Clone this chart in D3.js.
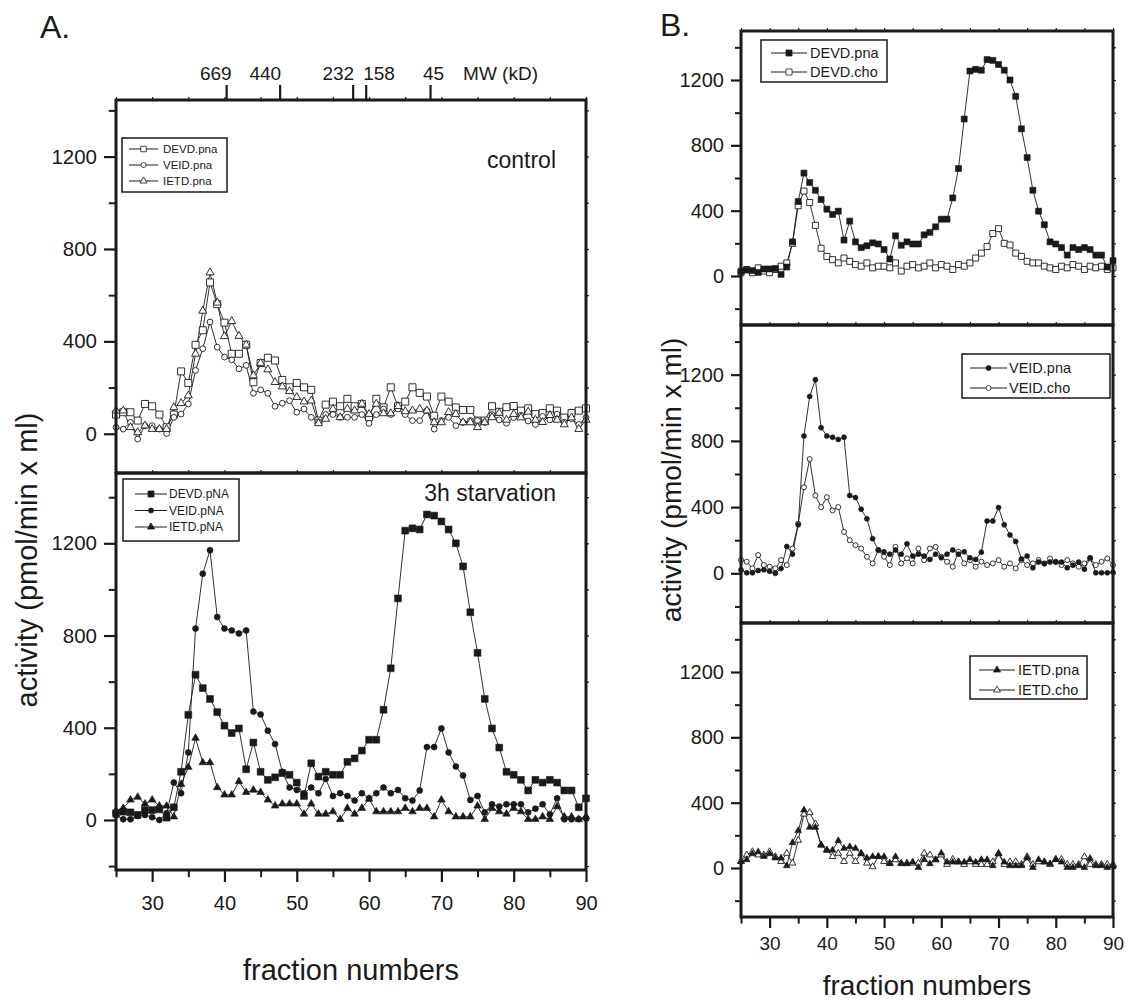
<!DOCTYPE html>
<html>
<head>
<meta charset="utf-8">
<script src="https://cdn.jsdelivr.net/npm/d3@7"></script>
<style>
  body { margin: 0; background: #fff; }
  svg text { font-family: "Liberation Sans", Arial, Helvetica, sans-serif; fill: #1a1a1a; }
</style>
</head>
<body>
<div id="chart"></div>
<script>
// fraction numbers 25..90
var fractions = [25,26,27,28,29,30,31,32,33,34,35,36,37,38,39,40,41,42,43,44,45,46,47,48,49,50,
  51,52,53,54,55,56,57,58,59,60,61,62,63,64,65,66,67,68,69,70,71,72,73,74,75,76,77,78,79,80,
  81,82,83,84,85,86,87,88,89,90];

// A. control (open symbols)
var controlDEVD = [83,93,93,57,129,119,83,28,83,270, 220,385,448,655,561,481,346,346,385,223,
  306,329,317,233,201,220,201,190,57,126, 139,119,151,119,129,71,151,114,201,119,
  139,201,177,161,78,161,139,114,103,103, 57,57,119,95,115,120,100,110,85,90, 110,100,70,90,100,110];
var controlVEID = [28,20,49,-23,35,35,20,1,71,85, 129,274,368,484,375,332,320,281,296,175,
  190,175,119,132,143,93,107,71,52,83, 83,71,71,71,83,45,83,107,83,107,
  83,57,57,100,20,57,71,35,49,57, 57,49,83,60,45,70,80,55,40,75, 60,85,50,65,40,70];
var controlIETD = [100,100,28,6,35,20,20,20,114,132, 165,346,532,698,567,422,487,423,385,252,
  306,278,223,204,184,158,139,143,45,64, 107,71,107,100,129,85,129,88,88,119,
  97,100,107,100,49,49,93,85,49,49, 28,49,71,90,60,85,70,95,60,50, 80,60,40,70,20,60];

// A. 3h starvation = B. pna series (filled symbols)
var starvDEVD = [29,36,33,22,43,43,46,10,55,209, 456,630,572,525,468,409,377,397,220,336,
  209,174,185,203,196,162,104,246,188,209, 196,196,252,267,301,348,348,478,658,961,
  1255,1265,1260,1325,1320,1295,1260,1200,1100,901, 725,525,397,314,209,196,174,128,174,162,
  174,162,128,128,55,94];
var starvVEID = [20,3,3,17,22,12,0,29,162,116, 293,830,1068,1170,880,830,822,809,822,470,
  458,387,329,209,141,130,116,141,116,178, 104,116,104,84,116,94,116,141,116,130,
  94,84,128,316,316,397,293,232,193,87, 104,33,68,58,68,68,68,33,49,68, 25,94,3,3,3,7];
var starvIETD = [40,51,87,99,70,87,61,61,14,155, 229,355,249,249,141,109,109,167,120,130,
  120,87,61,70,70,70,26,70,26,26, 36,3,51,26,51,91,36,36,36,36,
  51,36,51,51,14,87,36,14,14,14, 61,3,51,36,26,51,36,3,3,14, 3,58,14,14,3,14];

// B. cho series (open symbols)
var choDEVD = [20,40,20,50,30,20,40,60,80,200, 430,520,450,310,170,120,100,80,110,90,
  70,60,80,50,60,60,50,80,30,60, 70,50,60,80,50,70,60,40,70,60,
  80,110,140,180,260,290,200,190,140,120, 90,80,80,60,50,40,60,50,70,60, 40,60,50,60,40,50];
var choVEID = [80,70,30,110,50,40,30,80,50,150, 300,520,690,470,400,460,380,400,250,200,
  170,150,100,60,140,100,50,160,60,90, 60,150,80,150,160,100,70,40,130,60,
  80,40,70,50,60,80,40,60,30,80, 50,60,80,60,90,70,50,80,60,40, 60,90,50,70,90,50];
var choIETD = [40,80,100,80,80,100,70,40,90,30, 170,330,340,270,140,110,70,90,40,90,
  40,90,30,8,70,40,30,50,30,30, 30,30,90,80,50,80,22,53,38,22,
  38,22,22,22,38,89,22,38,38,22, 69,22,38,38,22,53,53,22,22,22, 69,22,22,22,22,22];

// axis ticks
var xMajor = [30,40,50,60,70,80,90];
var xMinor = [25,35,45,55,65,75,85];
var yMajor = [0,400,800,1200];
var yMinor = [-200,200,600,1000,1400];

// molecular weight markers on top axis
var mwLabels = ["669","440","232","158","45"];
var mwFractions = [40.3,47.7,57.8,59.6,68.5];
var mwAnchor = ["end","end","end","start","middle"];
var mwShift = [5,1,1,-3,3];

var FONT = '"Liberation Sans", Arial, Helvetica, sans-serif';

var svg = d3.select("#chart").append("svg")
  .attr("width", 1128)
  .attr("height", 1001);

function symbolPath(shape, size) {
  if (shape == "square") return d3.symbol().type(d3.symbolSquare).size(size * size)();
  if (shape == "circle") return d3.symbol().type(d3.symbolCircle).size(Math.PI * size * size / 4)();
  return d3.symbol().type(d3.symbolTriangle).size(size * size * Math.sqrt(3) / 4)();
}

function styleAxis(ax, fs, width) {
  ax.select(".domain").remove();
  ax.attr("font-family", FONT).attr("font-size", fs);
  ax.selectAll("line").attr("stroke", "#1a1a1a").attr("stroke-width", width);
  ax.selectAll("text").attr("fill", "#1a1a1a");
}

function drawPanel(p) {
  var x = d3.scaleLinear().domain([25, 90]).range([p.left, p.right]);
  var y = d3.scaleLinear().domain(p.yDomain).range([p.bottom, p.top]);
  var g = svg.append("g");
  var inside = function (v) { return v > p.yDomain[0] && v < p.yDomain[1]; };

  // left axis, outward ticks
  var yl = g.append("g").attr("transform", "translate(" + p.left + ",0)")
    .call(d3.axisLeft(y).tickValues(yMajor).tickSize(p.tick).tickPadding(p.pad).tickFormat(d3.format("d")));
  styleAxis(yl, p.fs, 2.2);
  var ym = g.append("g").attr("transform", "translate(" + p.left + ",0)")
    .call(d3.axisLeft(y).tickValues(yMinor.filter(inside)).tickSize(p.tick * 0.6).tickFormat(""));
  styleAxis(ym, p.fs, 2);

  // mirrored small ticks on right and top
  var yr = g.append("g").attr("transform", "translate(" + p.right + ",0)")
    .call(d3.axisRight(y).tickValues(yMajor.concat(yMinor).filter(inside)).tickSize(3).tickFormat(""));
  styleAxis(yr, p.fs, 1.2);
  var xt = g.append("g").attr("transform", "translate(0," + p.top + ")")
    .call(d3.axisTop(x).tickValues(xMajor.concat(xMinor)).tickSize(3).tickFormat(""));
  styleAxis(xt, p.fs, 1.2);

  if (p.xAxis) {
    var xb = g.append("g").attr("transform", "translate(0," + p.bottom + ")")
      .call(d3.axisBottom(x).tickValues(xMajor).tickSize(p.xtick).tickPadding(p.xpad));
    styleAxis(xb, p.xfs, 2.2);
    var xm = g.append("g").attr("transform", "translate(0," + p.bottom + ")")
      .call(d3.axisBottom(x).tickValues(xMinor).tickSize(p.xtick * 0.6).tickFormat(""));
    styleAxis(xm, p.xfs, 2);
  }

  // series: thin connecting line, then markers
  p.series.forEach(function (s) {
    var pts = fractions.map(function (f, i) { return [f, s.values[i]]; });
    g.append("path")
      .datum(pts)
      .attr("fill", "none")
      .attr("stroke", "#1a1a1a")
      .attr("stroke-width", 0.9)
      .attr("d", d3.line().x(function (d) { return x(d[0]); }).y(function (d) { return y(d[1]); }));
  });
  p.series.forEach(function (s) {
    var pts = fractions.map(function (f, i) { return [f, s.values[i]]; });
    g.selectAll(null)
      .data(pts)
      .enter()
      .append("path")
      .attr("transform", function (d) { return "translate(" + x(d[0]) + "," + y(d[1]) + ")"; })
      .attr("d", symbolPath(s.shape, s.size))
      .attr("fill", s.filled ? "#1a1a1a" : "#fff")
      .attr("stroke", "#1a1a1a")
      .attr("stroke-width", s.filled ? 0.6 : 0.9);
  });

  // frame
  g.append("rect")
    .attr("x", p.left).attr("y", p.top)
    .attr("width", p.right - p.left).attr("height", p.bottom - p.top)
    .attr("fill", "none")
    .attr("stroke", "#1a1a1a")
    .attr("stroke-width", 3);

  return x;
}

function drawLegend(L) {
  var g = svg.append("g");
  g.append("rect")
    .attr("x", L.x).attr("y", L.y).attr("width", L.w).attr("height", L.h)
    .attr("fill", "#fff").attr("stroke", "#1a1a1a").attr("stroke-width", 1.5);
  L.items.forEach(function (it, i) {
    var cy = L.y + L.first + i * L.step;
    g.append("line")
      .attr("x1", L.x + L.lx0).attr("x2", L.x + L.lx1)
      .attr("y1", cy).attr("y2", cy)
      .attr("stroke", "#1a1a1a").attr("stroke-width", 1);
    g.append("path")
      .attr("transform", "translate(" + (L.x + (L.lx0 + L.lx1) / 2) + "," + cy + ")")
      .attr("d", symbolPath(it.shape, it.size))
      .attr("fill", it.filled ? "#1a1a1a" : "#fff")
      .attr("stroke", "#1a1a1a").attr("stroke-width", 0.8);
    g.append("text")
      .attr("x", L.x + L.tx).attr("y", cy)
      .attr("dy", "0.36em")
      .attr("font-size", L.fs)
      .text(it.name);
  });
}

// ---------- panel A ----------
var xA = drawPanel({
  left: 116, right: 586, top: 100, bottom: 473, yDomain: [-170, 1445],
  tick: 12, pad: 7, fs: 20.5,
  series: [
    {values: controlDEVD, shape: "square", filled: false, size: 7},
    {values: controlVEID, shape: "circle", filled: false, size: 5.8},
    {values: controlIETD, shape: "triangle", filled: false, size: 8}
  ]
});
drawPanel({
  left: 116, right: 586, top: 473, bottom: 870, yDomain: [-217, 1505],
  tick: 12, pad: 7, fs: 20.5, xAxis: true, xtick: 12, xpad: 14, xfs: 20,
  series: [
    {values: starvDEVD, shape: "square", filled: true, size: 6.8},
    {values: starvVEID, shape: "circle", filled: true, size: 6},
    {values: starvIETD, shape: "triangle", filled: true, size: 7.6}
  ]
});

// ---------- panel B ----------
var bCommon = {left: 741, right: 1113, yDomain: [-300, 1500], tick: 10, pad: 7, fs: 20};
drawPanel(Object.assign({}, bCommon, {
  top: 31, bottom: 325,
  series: [
    {values: choDEVD, shape: "square", filled: false, size: 6},
    {values: starvDEVD, shape: "square", filled: true, size: 6}
  ]
}));
drawPanel(Object.assign({}, bCommon, {
  top: 325, bottom: 623,
  series: [
    {values: choVEID, shape: "circle", filled: false, size: 5},
    {values: starvVEID, shape: "circle", filled: true, size: 5}
  ]
}));
drawPanel(Object.assign({}, bCommon, {
  top: 623, bottom: 917, xAxis: true, xtick: 11, xpad: 9, xfs: 19,
  series: [
    {values: choIETD, shape: "triangle", filled: false, size: 6.8},
    {values: starvIETD, shape: "triangle", filled: true, size: 6.8}
  ]
}));

// ---------- MW axis on top of A ----------
var mw = svg.append("g");
mw.selectAll("line").data(mwFractions).enter().append("line")
  .attr("x1", function (d) { return xA(d); }).attr("x2", function (d) { return xA(d); })
  .attr("y1", 85).attr("y2", 100)
  .attr("stroke", "#1a1a1a").attr("stroke-width", 2.2);
mw.selectAll("text").data(mwLabels).enter().append("text")
  .attr("x", function (d, i) { return xA(mwFractions[i]) + mwShift[i]; })
  .attr("y", 80)
  .attr("text-anchor", function (d, i) { return mwAnchor[i]; })
  .attr("font-size", 19)
  .text(function (d) { return d; });
mw.append("text").attr("x", xA(73)).attr("y", 80).attr("font-size", 19).text("MW (kD)");

// ---------- legends ----------
drawLegend({x: 122, y: 138, w: 105, h: 54, first: 11, step: 16, lx0: 7, lx1: 36, tx: 41, fs: 11.5,
  items: [
    {name: "DEVD.pna", shape: "square", filled: false, size: 5.5},
    {name: "VEID.pna", shape: "circle", filled: false, size: 5},
    {name: "IETD.pna", shape: "triangle", filled: false, size: 7}
  ]});
drawLegend({x: 123, y: 479, w: 116, h: 62, first: 15, step: 16.5, lx0: 12, lx1: 44, tx: 46, fs: 12,
  items: [
    {name: "DEVD.pNA", shape: "square", filled: true, size: 6},
    {name: "VEID.pNA", shape: "circle", filled: true, size: 5},
    {name: "IETD.pNA", shape: "triangle", filled: true, size: 7}
  ]});
drawLegend({x: 761, y: 40, w: 126, h: 42, first: 13, step: 19, lx0: 10, lx1: 46, tx: 49, fs: 14.5,
  items: [
    {name: "DEVD.pna", shape: "square", filled: true, size: 6},
    {name: "DEVD.cho", shape: "square", filled: false, size: 6}
  ]});
drawLegend({x: 962, y: 354, w: 148, h: 44, first: 14, step: 20, lx0: 8, lx1: 45, tx: 47, fs: 14.5,
  items: [
    {name: "VEID.pna", shape: "circle", filled: true, size: 5},
    {name: "VEID.cho", shape: "circle", filled: false, size: 5}
  ]});
drawLegend({x: 970, y: 656, w: 117, h: 43, first: 14, step: 20, lx0: 9, lx1: 45, tx: 48, fs: 14.5,
  items: [
    {name: "IETD.pna", shape: "triangle", filled: true, size: 7},
    {name: "IETD.cho", shape: "triangle", filled: false, size: 7}
  ]});

// ---------- titles ----------
svg.append("text").attr("x", 40).attr("y", 38).attr("font-size", 32).text("A.");
svg.append("text").attr("x", 660).attr("y", 36).attr("font-size", 32).text("B.");
svg.append("text").attr("x", 556).attr("y", 168).attr("text-anchor", "end").attr("font-size", 23).text("control");
svg.append("text").attr("x", 556).attr("y", 501).attr("text-anchor", "end").attr("font-size", 23).text("3h starvation");

svg.append("text").attr("transform", "translate(37,560) rotate(-90)")
  .attr("text-anchor", "middle").attr("font-size", 29).text("activity (pmol/min x ml)");
svg.append("text").attr("transform", "translate(681,480) rotate(-90)")
  .attr("text-anchor", "middle").attr("font-size", 28).text("activity (pmol/min x ml)");
svg.append("text").attr("x", 351).attr("y", 980)
  .attr("text-anchor", "middle").attr("font-size", 29).text("fraction numbers");
svg.append("text").attr("x", 927).attr("y", 995)
  .attr("text-anchor", "middle").attr("font-size", 28).text("fraction numbers");
</script>
</body>
</html>
